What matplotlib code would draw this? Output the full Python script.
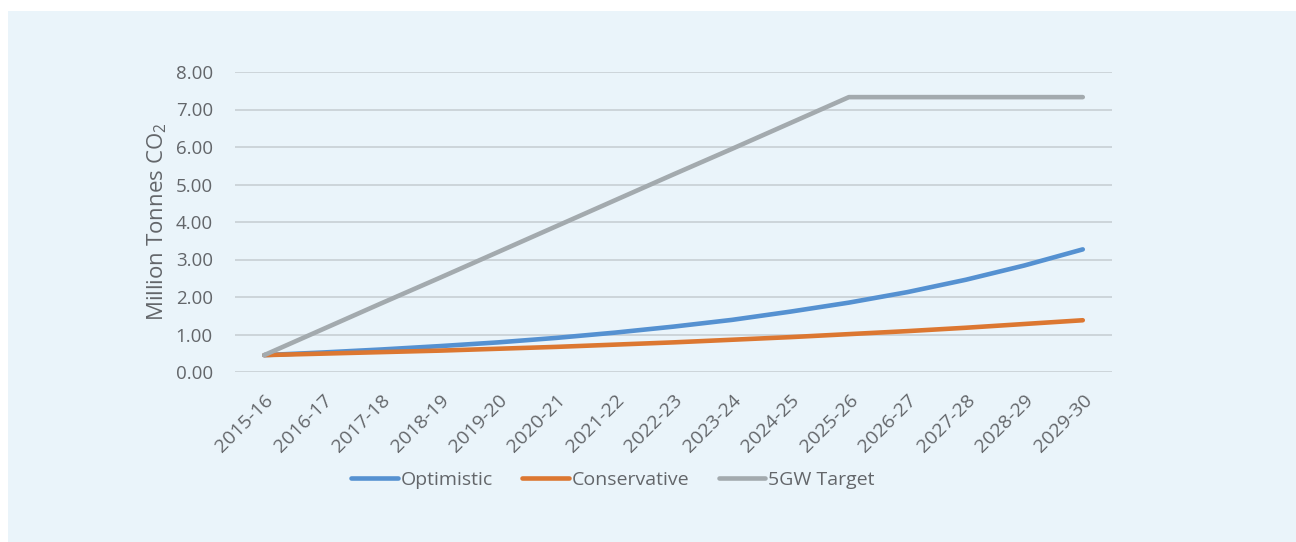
import matplotlib.pyplot as plt
from matplotlib.patches import Rectangle

plt.rcParams['font.family'] = ['Open Sans', 'DejaVu Sans']
plt.rcParams['mathtext.fontset'] = 'custom'
plt.rcParams['mathtext.rm'] = 'Open Sans'
plt.rcParams['mathtext.default'] = 'regular'

years = ['2015-16', '2016-17', '2017-18', '2018-19', '2019-20', '2020-21', '2021-22',
         '2022-23', '2023-24', '2024-25', '2025-26', '2026-27', '2027-28', '2028-29', '2029-30']
optimistic = [0.45, 0.52, 0.60, 0.69, 0.79, 0.91, 1.05, 1.21, 1.39, 1.61, 1.85, 2.13, 2.46, 2.84, 3.27]
conservative = [0.45, 0.49, 0.53, 0.57, 0.62, 0.67, 0.73, 0.79, 0.86, 0.93, 1.01, 1.09, 1.18, 1.28, 1.38]
target_5gw = [0.45, 1.14, 1.83, 2.51, 3.20, 3.89, 4.58, 5.27, 5.95, 6.64, 7.33, 7.33, 7.33, 7.33, 7.33]
yticks = [0, 1, 2, 3, 4, 5, 6, 7, 8]

bg = '#EAF4FA'
txt = '#63666A'

fig = plt.figure(figsize=(12.96, 5.42), dpi=100, facecolor='white')
fig.patches.append(Rectangle((8 / 1296, 0), 1 - 8 / 1296, 1 - 11 / 542,
                             transform=fig.transFigure, facecolor=bg, edgecolor='none', zorder=-10))

ax = fig.add_axes([235 / 1296, 1 - 372 / 542, 877 / 1296, 300 / 542])
ax.patch.set_alpha(0)

x = range(len(years))
ax.plot(x, optimistic, color='#5591D1', lw=3.3, solid_capstyle='round', label='Optimistic', zorder=3)
ax.plot(x, conservative, color='#DC7731', lw=3.3, solid_capstyle='round', label='Conservative', zorder=3)
ax.plot(x, target_5gw, color='#A3AAAE', lw=3.3, solid_capstyle='round', label='5GW Target', zorder=3)

ax.set_xlim(-0.5, len(years) - 0.5)
ax.set_ylim(0, 8)
ax.set_yticks(yticks)
ax.set_yticklabels([f'{v:.2f}' for v in yticks])
ax.set_xticks(list(x))
ax.set_xticklabels(years, rotation=45, ha='right', rotation_mode='anchor')
ax.tick_params(axis='y', length=0, pad=16, labelsize=13.5, labelcolor=txt)
ax.tick_params(axis='x', length=0, pad=14, labelsize=14, labelcolor=txt)
ax.grid(axis='y', color='#CDD5DA', lw=1.4)
ax.set_axisbelow(True)
for s in ax.spines.values():
    s.set_visible(False)

ax.set_ylabel('Million Tonnes CO$_2$', fontsize=16, color=txt, labelpad=5)

leg = fig.legend(loc='center', bbox_to_anchor=(613 / 1296, 1 - 480 / 542), ncol=3, frameon=False,
                 fontsize=14, handlelength=2.4, handletextpad=0.15, columnspacing=1.5)
for t in leg.get_texts():
    t.set_color(txt)

fig.savefig('out.png', dpi=100, facecolor='white')
